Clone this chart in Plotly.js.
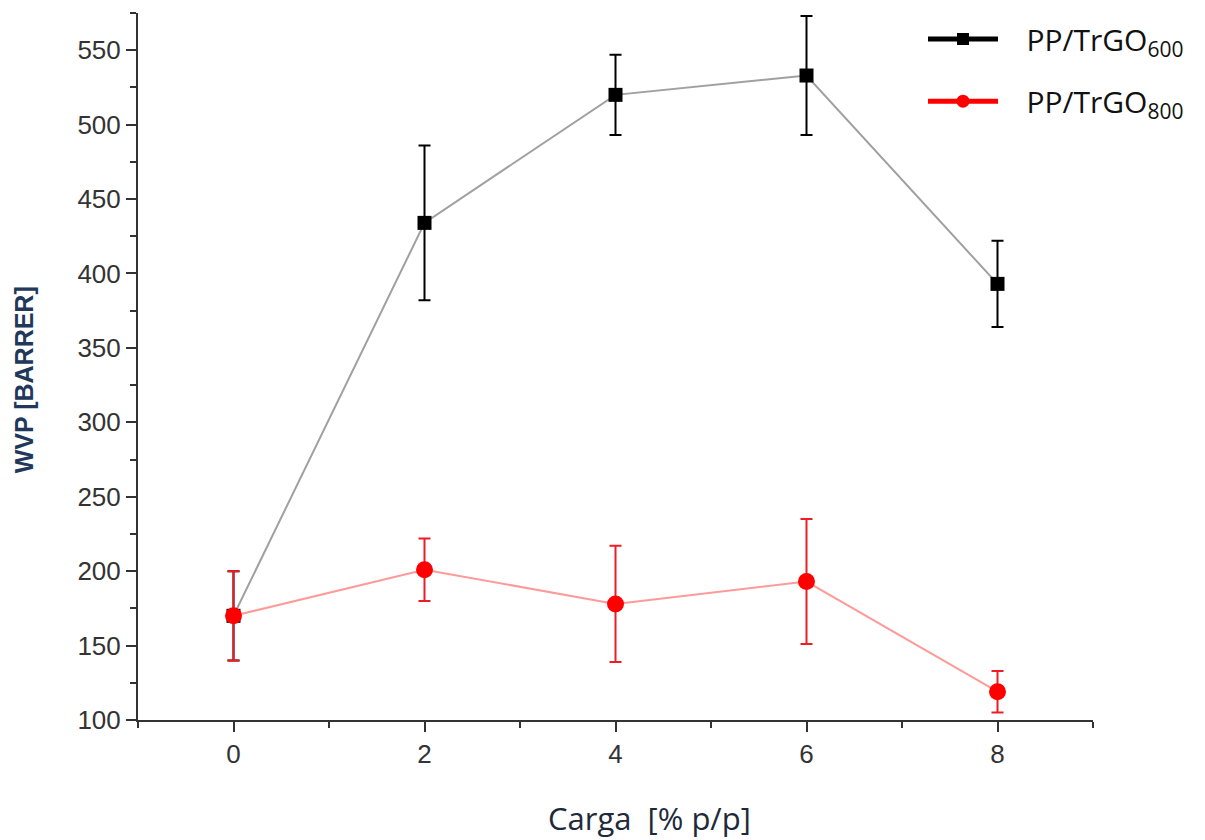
<!DOCTYPE html>
<html>
<head>
<meta charset="utf-8">
<script src="https://cdn.plot.ly/plotly-3.0.1.min.js"></script>
<style>html,body{margin:0;padding:0;background:#fff;}#chart{width:1205px;height:840px;}</style>
</head>
<body>
<div id="chart"></div>
<script>
// Data
const carga = [0, 2, 4, 6, 8];
const wvp600 = [170, 434, 520, 533, 393];
const err600 = [30, 52, 27, 40, 29];
const wvp800 = [170, 201, 178, 193, 119];
const err800 = [30, 21, 39, 42, 14];
const name600 = '&nbsp;&nbsp;&nbsp;PP/TrGO<sub>600</sub>';
const name800 = '&nbsp;&nbsp;&nbsp;PP/TrGO<sub>800</sub>';
const xTitle = 'Carga  [% p/p]';
const yTitle = 'WVP [BARRER]';

const traces = [
  {
    x: carga, y: wvp600, type: 'scatter', mode: 'lines+markers', showlegend: false,
    line: {color: '#a0a0a0', width: 2},
    marker: {symbol: 'square', size: 14, color: '#000'},
    error_y: {type: 'data', array: err600, visible: true, color: '#000', thickness: 2, width: 6}
  },
  {
    x: carga, y: wvp800, type: 'scatter', mode: 'lines+markers', showlegend: false,
    line: {color: '#ff9a9a', width: 2},
    marker: {symbol: 'circle', size: 17, color: '#ff0000'},
    error_y: {type: 'data', array: err800, visible: true, color: '#ee1c24', thickness: 2, width: 6}
  },
  {
    x: [null], y: [null], type: 'scatter', mode: 'lines+markers', name: name600, legend: 'legend',
    line: {color: '#000', width: 5}, marker: {symbol: 'square', size: 12, color: '#000'}
  },
  {
    x: [null], y: [null], type: 'scatter', mode: 'lines+markers', name: name800, legend: 'legend2',
    line: {color: '#ff0000', width: 5}, marker: {symbol: 'circle', size: 13, color: '#ff0000'}
  }
];

const tickFont = {family: 'Liberation Sans, Arial, sans-serif', size: 26, color: '#333'};
const legFont = {family: 'Open Sans, sans-serif', size: 30, color: '#111'};

const layout = {
  width: 1205, height: 840,
  margin: {l: 138, r: 112, t: 13, b: 120},
  paper_bgcolor: '#fff', plot_bgcolor: '#fff',
  xaxis: {
    range: [-1, 9], dtick: 2, tick0: 0, showgrid: false, zeroline: false,
    showline: true, linecolor: '#333', linewidth: 2,
    ticks: 'outside', ticklen: 10, tickwidth: 2, tickcolor: '#333',
    minor: {dtick: 1, tick0: 0, ticks: 'outside', ticklen: 6, tickwidth: 2, tickcolor: '#333', showgrid: false},
    tickfont: tickFont
  },
  yaxis: {
    range: [100, 575], dtick: 50, tick0: 100, showgrid: false, zeroline: false,
    showline: true, linecolor: '#333', linewidth: 2,
    ticks: 'outside', ticklen: 10, tickwidth: 2, tickcolor: '#333',
    minor: {dtick: 25, tick0: 100, ticks: 'outside', ticklen: 6, tickwidth: 2, tickcolor: '#333', showgrid: false},
    tickfont: tickFont
  },
  annotations: [
    {text: xTitle, xref: 'paper', yref: 'paper', x: 0.536, y: -0.1386, xanchor: 'center', yanchor: 'middle',
     showarrow: false, font: {family: 'Open Sans, sans-serif', size: 31, color: '#1e2a3a'}},
    {text: yTitle, xref: 'paper', yref: 'paper', x: -0.119, y: 0.481, xanchor: 'center', yanchor: 'middle',
     textangle: -90, showarrow: false, font: {family: 'Liberation Sans, Arial, sans-serif', size: 25, color: '#22385a', weight: 'bold'}}
  ],
  legend: {
    x: 0.822, y: 1.0, xanchor: 'left', yanchor: 'top', bgcolor: 'rgba(0,0,0,0)',
    font: legFont, itemwidth: 70
  },
  legend2: {
    x: 0.822, y: 0.912, xanchor: 'left', yanchor: 'top', bgcolor: 'rgba(0,0,0,0)',
    font: legFont, itemwidth: 70
  },
  showlegend: true
};

Plotly.newPlot('chart', traces, layout, {displayModeBar: false, staticPlot: true});
</script>
</body>
</html>
